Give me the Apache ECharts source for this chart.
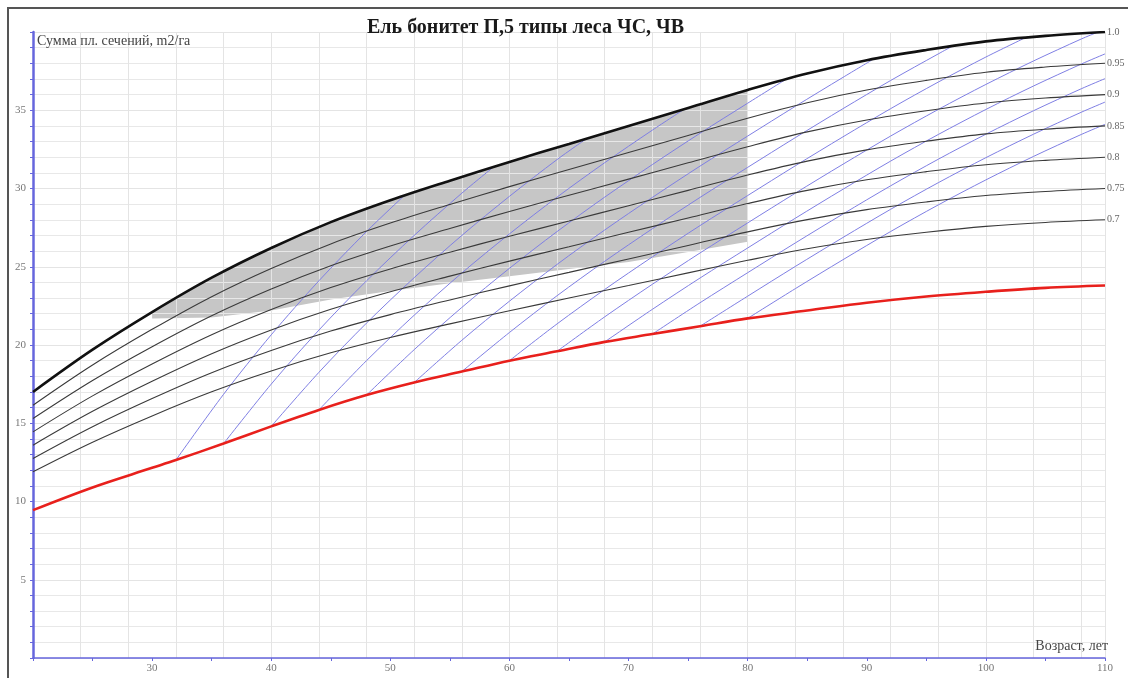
<!DOCTYPE html>
<html><head><meta charset="utf-8">
<script src="https://cdn.jsdelivr.net/npm/echarts@6/dist/echarts.min.js"></script>
<style>html,body{margin:0;padding:0;background:#fff}#c{width:1128px;height:678px}</style>
</head><body><div id="c"></div>
<script>
const titleText = 'Ель бонитет П,5 типы леса ЧС, ЧВ';
const yName = 'Сумма пл. сечений, m2/га';
const xName = 'Возраст, лет';

const ages = [20,25,30,35,40,45,50,55,60,65,70,75,80,85,90,95,100,105,110];
const dens100 = [17.0,19.7,22.1,24.3,26.2,27.85,29.25,30.5,31.7,32.85,34.0,35.15,36.3,37.35,38.2,38.85,39.4,39.75,40.0];
const dens095 = [16.15,18.72,21.0,23.09,24.89,26.46,27.79,28.98,30.12,31.21,32.3,33.39,34.49,35.48,36.29,36.91,37.43,37.76,38.0];
const dens090 = [15.3,17.73,19.89,21.87,23.58,25.07,26.33,27.45,28.53,29.57,30.6,31.64,32.67,33.62,34.38,34.97,35.46,35.78,36.0];
const dens085 = [14.45,16.75,18.79,20.66,22.27,23.67,24.86,25.93,26.95,27.92,28.9,29.88,30.86,31.75,32.47,33.02,33.49,33.79,34.0];
const dens080 = [13.6,15.76,17.68,19.44,20.96,22.28,23.4,24.4,25.36,26.28,27.2,28.12,29.04,29.88,30.56,31.08,31.52,31.8,32.0];
const dens075 = [12.75,14.78,16.58,18.23,19.65,20.89,21.94,22.88,23.78,24.64,25.5,26.36,27.23,28.01,28.65,29.14,29.55,29.81,30.0];
const dens070 = [11.9,13.79,15.47,17.01,18.34,19.5,20.48,21.35,22.19,23.0,23.8,24.61,25.41,26.15,26.74,27.2,27.58,27.83,28.0];
const densLabels = ['1.0','0.95','0.9','0.85','0.8','0.75','0.7'];

const redAges = [20,25,30,32,36,40,44,48,52,56,60,64,68,72,76,80,85,90,95,100,105,110];
const redValues = [9.45,10.9,12.15,12.65,13.7,14.8,15.85,16.8,17.6,18.3,19.0,19.6,20.2,20.7,21.2,21.7,22.2,22.7,23.1,23.4,23.65,23.8];

const shadeAges = [30,35,40,45,50,55,60,65,70,75,80];
const shadeTop = [22.1,24.3,26.2,27.85,29.25,30.5,31.7,32.85,34.0,35.15,36.3];
const shadeBottom = [21.7,21.75,22.2,22.9,23.45,23.95,24.4,24.85,25.3,25.95,26.6];

const thin1 = [[32,12.65],[36,16.85],[40,20.65],[44,24.1],[48,27.25],[51.1,29.5]];
const thin2 = [[36,13.7],[40,17.5],[44,20.95],[48,24.1],[52,27.0],[56,29.7],[58.7,31.4]];
const thin3 = [[40,14.8],[44,18.25],[48,21.4],[52,24.3],[56,27.0],[60,29.5],[64,31.85],[66.5,33.2]];
const thin4 = [[44,15.85],[48,19.0],[52,21.9],[56,24.6],[60,27.1],[64,29.45],[68,31.65],[72,33.73],[74.7,35.08]];
const thin5 = [[48,16.8],[52,19.7],[56,22.4],[60,24.9],[64,27.25],[68,29.45],[72,31.53],[76,33.53],[80,35.45],[83.2,36.97]];
const thin6 = [[52,17.6],[56,20.3],[60,22.8],[64,25.15],[68,27.35],[72,29.43],[76,31.43],[80,33.35],[84,35.25],[88,37.1],[90.5,38.24]];
const thin7 = [[56,18.3],[60,20.8],[64,23.15],[68,25.35],[72,27.43],[76,29.43],[80,31.35],[84,33.25],[88,35.1],[92,36.9],[96,38.6],[97.2,39.1]];
const thin8 = [[60,19.0],[64,21.35],[68,23.55],[72,25.63],[76,27.63],[80,29.55],[84,31.45],[88,33.3],[92,35.1],[96,36.8],[100,38.4],[103.3,39.63]];
const thin9 = [[64,19.6],[68,21.8],[72,23.88],[76,25.88],[80,27.8],[84,29.7],[88,31.55],[92,33.35],[96,35.05],[100,36.65],[104,38.15],[108,39.55],[109.3,39.96]];
const thin10 = [[68,20.2],[72,22.28],[76,24.28],[80,26.2],[84,28.1],[88,29.95],[92,31.75],[96,33.45],[100,35.05],[104,36.55],[108,37.95],[110,38.6]];
const thin11 = [[72,20.7],[76,22.7],[80,24.62],[84,26.52],[88,28.37],[92,30.17],[96,31.87],[100,33.47],[104,34.97],[108,36.37],[110,37.02]];
const thin12 = [[76,21.2],[80,23.12],[84,25.02],[88,26.87],[92,28.67],[96,30.37],[100,31.97],[104,33.47],[108,34.87],[110,35.52]];
const thin13 = [[80,21.7],[84,23.6],[88,25.45],[92,27.25],[96,28.95],[100,30.55],[104,32.05],[108,33.45],[110,34.1]];
const thinLines = [thin1,thin2,thin3,thin4,thin5,thin6,thin7,thin8,thin9,thin10,thin11,thin12,thin13];

const serif = 'Liberation Serif';
const chart = echarts.init(document.getElementById('c'), null, {renderer:'canvas'});

const densSets = [dens100,dens095,dens090,dens085,dens080,dens075,dens070];
const series = [];

series.push({
  type:'custom', z:1, silent:true, xAxisIndex:0, yAxisIndex:0,
  data:[[shadeAges[0], shadeTop[0]]],
  renderItem:function(params, api){
    const pts = [];
    for (let i=0;i<shadeAges.length;i++) pts.push(api.coord([shadeAges[i], shadeTop[i]]));
    for (let i=shadeAges.length-1;i>=0;i--) pts.push(api.coord([shadeAges[i], shadeBottom[i]]));
    return {type:'polygon', shape:{points:pts}, style:{fill:'#c6c6c6', stroke:null}};
  }
});

thinLines.forEach(function(l, i){
  series.push({
    type:'line', name:'thin'+(i+1), z:3, data:l, showSymbol:false, symbol:'none', smooth:0.3,
    silent:true, lineStyle:{color:'#7f7fe4', width:1}
  });
});

densSets.forEach(function(d, i){
  series.push({
    type:'line', name:densLabels[i], z:4, showSymbol:false, symbol:'none', smooth:0.35, silent:true,
    data: ages.map(function(a, j){ return [a, d[j]]; }),
    lineStyle: i===0 ? {color:'#111', width:2.6} : {color:'#3a3a3a', width:1.1},
    endLabel:{show:true, formatter:densLabels[i], color:'#666', fontFamily:serif, fontSize:10, distance:2}
  });
});

series.push({
  type:'line', name:'red', z:4, showSymbol:false, symbol:'none', smooth:0.35, silent:true,
  data: redAges.map(function(a, j){ return [a, redValues[j]]; }),
  lineStyle:{color:'#e8201c', width:2.6}
});

const option = {
  backgroundColor:'#ffffff',
  animation:false,
  title:{text:titleText, left:362, top:13, textStyle:{fontFamily:serif, fontWeight:'bold', fontSize:20, color:'#1a1a1a'}},
  grid:{left:33, right:23, top:32, bottom:20, containLabel:false},
  xAxis:[{
    type:'value', min:20, max:110, interval:10, z:2,
    axisLine:{show:true, lineStyle:{color:'#6666dd', width:1.5}},
    axisTick:{show:true, length:3, lineStyle:{color:'#6666dd'}},
    minorTick:{show:true, splitNumber:2, length:3, lineStyle:{color:'#6666dd'}},
    axisLabel:{color:'#777', fontFamily:serif, fontSize:11, margin:5, showMinLabel:false},
    splitLine:{show:false}
  },{
    type:'value', min:20, max:110, interval:4, z:2, position:'bottom',
    axisLine:{show:false}, axisTick:{show:false}, axisLabel:{show:false},
    splitLine:{show:true, lineStyle:{color:'#e4e4e4', width:1}}
  }],
  yAxis:[{
    type:'value', min:0, max:40, interval:5, z:2,
    axisLine:{show:true, lineStyle:{color:'#6666dd', width:2.5}},
    axisTick:{show:true, length:3, lineStyle:{color:'#6666dd'}},
    minorTick:{show:true, splitNumber:5, length:3, lineStyle:{color:'#6666dd'}},
    axisLabel:{color:'#777', fontFamily:serif, fontSize:11, margin:7, showMinLabel:false, showMaxLabel:false},
    splitLine:{show:true, lineStyle:{color:'#e4e4e4', width:1}},
    minorSplitLine:{show:true, lineStyle:{color:'#e8e8e8', width:1}}
  }],
  graphic:[
    {type:'rect', silent:true, shape:{x:8, y:8, width:1200, height:700}, style:{fill:null, stroke:'#555', lineWidth:2}, z:10},
    {type:'text', silent:true, left:37, top:34, style:{text:yName, fontFamily:serif, fontSize:14, fill:'#444'}, z:10},
    {type:'text', silent:true, right:20, top:639, style:{text:xName, fontFamily:serif, fontSize:14, fill:'#444'}, z:10}
  ],
  series: series
};
chart.setOption(option);
</script></body></html>
